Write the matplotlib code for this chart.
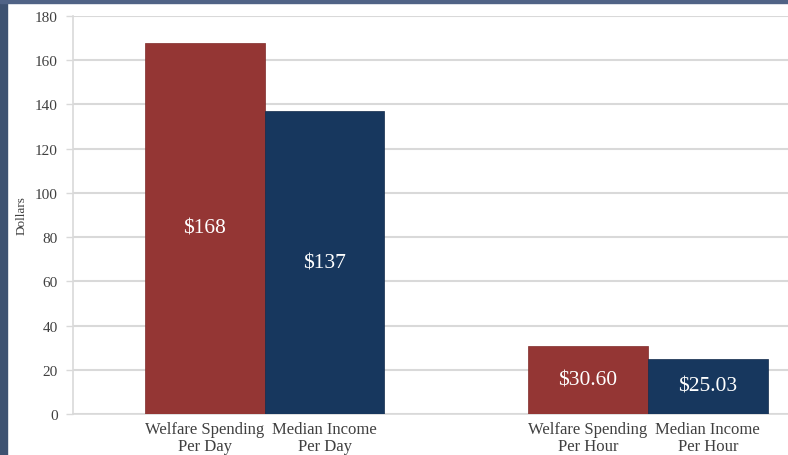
import numpy as np
import matplotlib.pyplot as plt
from matplotlib.patches import Rectangle

plt.rcParams['font.family'] = ['Liberation Serif', 'DejaVu Serif']

# data
groups = ['Per Day', 'Per Hour']
welfare = [168, 30.60]
income = [137, 25.03]
welfare_labels = ['$168', '$30.60']
income_labels = ['$137', '$25.03']
tick_text = ['Welfare Spending\nPer Day', 'Median Income\nPer Day',
             'Welfare Spending\nPer Hour', 'Median Income\nPer Hour']

red = '#943634'
navy = '#17375E'
grid_c = '#D9D9D9'
txt_c = '#404040'

fig = plt.figure(figsize=(7.88, 4.56), dpi=100)
fig.patch.set_facecolor('white')
ax = fig.add_axes([73 / 788, 41 / 456, 1 - 73 / 788, 398 / 456])

# slide border
fig.patches.append(Rectangle((0, 0), 7 / 788, 1, transform=fig.transFigure,
                             color='#3E5271', zorder=0))
fig.patches.append(Rectangle((0, 1 - 4 / 456), 1, 4 / 456, transform=fig.transFigure,
                             color='#506386', zorder=0))

centers = np.array([0, 3.2])
w = 1.0
b1 = ax.bar(centers - w / 2, welfare, w, color=red, edgecolor='#7f2b29', linewidth=0.5, zorder=3)
b2 = ax.bar(centers + w / 2, income, w, color=navy, edgecolor='#10294a', linewidth=0.5, zorder=3)

for bars, labs in ((b1, welfare_labels), (b2, income_labels)):
    for rect, lab in zip(bars, labs):
        ax.text(rect.get_x() + rect.get_width() / 2, rect.get_height() / 2, lab,
                ha='center', va='center', color='white', fontsize=15.5, zorder=4)

ax.set_xlim(-1.6, 4.37)
ax.set_ylim(0, 180)
ax.set_yticks(np.arange(0, 181, 20))
ax.yaxis.grid(True, color=grid_c, linewidth=1.5, zorder=0)
ax.set_axisbelow(True)

xt = [centers[0] - w / 2, centers[0] + w / 2, centers[1] - w / 2, centers[1] + w / 2]
ax.set_xticks(xt)
ax.set_xticklabels(tick_text, fontsize=12, color=txt_c, linespacing=1.05)
ax.tick_params(axis='x', length=0, pad=5)
ax.tick_params(axis='y', length=5, width=1, color=grid_c, pad=6, labelsize=11,
               labelcolor=txt_c)

for s in ['top', 'right']:
    ax.spines[s].set_visible(False)
for s in ['left', 'bottom']:
    ax.spines[s].set_color(grid_c)
    ax.spines[s].set_linewidth(1.2)

ax.set_ylabel('Dollars', fontsize=9.5, color=txt_c, labelpad=5)

fig.savefig('out.png', dpi=100)
